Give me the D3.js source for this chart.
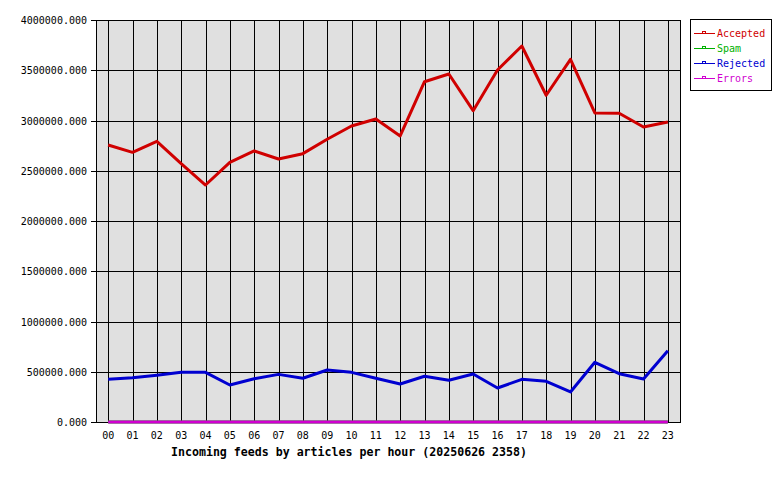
<!DOCTYPE html>
<html>
<head>
<meta charset="utf-8">
<script src="https://cdn.jsdelivr.net/npm/d3@7"></script>
<style>
body { margin: 0; background: #fff; }
svg { display: block; }
text { font-family: "DejaVu Sans Mono", monospace; }
</style>
</head>
<body>
<svg id="view"></svg>
<script>
var hours = ["00","01","02","03","04","05","06","07","08","09","10","11",
	"12","13","14","15","16","17","18","19","20","21","22","23"];
var accepted = [2756000,2683000,2793000,2570000,2358000,2584000,2697000,2617000,2670000,2813000,2945000,3015000,
	2846000,3386000,3463000,3098000,3502000,3741000,3251000,3609000,3075000,3072000,2935000,2985000];
var spam = [0,0,0,0,0,0,0,0,0,0,0,0,0,0,0,0,0,0,0,0,0,0,0,0];
var rejected = [425000,441000,465000,494000,494000,368000,431000,474000,435000,517000,494000,435000,
	378000,455000,415000,478000,338000,425000,405000,299000,594000,481000,428000,709000];
var errors = [0,0,0,0,0,0,0,0,0,0,0,0,0,0,0,0,0,0,0,0,0,0,0,0];
var yTicks = [0,500000,1000000,1500000,2000000,2500000,3000000,3500000,4000000];

var series = [
	{ name: "Accepted", values: accepted, color: "#d00000" },
	{ name: "Spam", values: spam, color: "#00b000" },
	{ name: "Rejected", values: rejected, color: "#0000d0" },
	{ name: "Errors", values: errors, color: "#d000d0" }
];

var svg = d3.select("#view").attr("width", 780).attr("height", 480);

// plot area (note: "top" is reserved on window, so use pTop etc.)
var pLeft = 96, pRight = 680, pTop = 20, pBottom = 422;

var x = d3.scalePoint().domain(hours).range([pLeft, pRight]).padding(0.5);
var y = d3.scaleLinear().domain([0, 4000000]).range([pBottom, pTop]);

// plot background
svg.append("rect")
	.attr("x", pLeft).attr("y", pTop)
	.attr("width", pRight - pLeft).attr("height", pBottom - pTop)
	.attr("fill", "#e0e0e0");

// grid
var grid = svg.append("g").attr("stroke", "#000").attr("stroke-width", 1).attr("shape-rendering", "crispEdges");
grid.selectAll(".vg").data(hours).join("line")
	.attr("x1", d => Math.round(x(d)) + 0.5).attr("x2", d => Math.round(x(d)) + 0.5)
	.attr("y1", pTop).attr("y2", pBottom);
grid.selectAll(".hg").data(yTicks).join("line")
	.attr("x1", pLeft - 5).attr("x2", pRight)
	.attr("y1", d => Math.round(y(d)) + 0.5).attr("y2", d => Math.round(y(d)) + 0.5);

// frame
svg.append("rect")
	.attr("x", pLeft + 0.5).attr("y", pTop + 0.5)
	.attr("width", pRight - pLeft).attr("height", pBottom - pTop)
	.attr("fill", "none").attr("stroke", "#000").attr("shape-rendering", "crispEdges");

// y labels
svg.append("g").selectAll("text").data(yTicks).join("text")
	.attr("x", pLeft - 9).attr("y", d => y(d) + 4)
	.attr("text-anchor", "end").attr("font-size", 10)
	.text(d => d3.format(".3f")(d));

// x labels
svg.append("g").selectAll("text").data(hours).join("text")
	.attr("x", d => x(d)).attr("y", pBottom + 17)
	.attr("text-anchor", "middle").attr("font-size", 10)
	.text(d => d);

svg.append("text")
	.attr("x", 349).attr("y", 456)
	.attr("text-anchor", "middle").attr("font-size", 11.6).attr("font-weight", "bold")
	.text("Incoming feeds by articles per hour (20250626 2358)");

// lines
var line = d3.line().x((d, i) => x(hours[i])).y(d => y(d));
svg.append("g").selectAll("path").data(series).join("path")
	.attr("d", d => line(d.values))
	.attr("fill", "none")
	.attr("stroke", d => d.color)
	.attr("stroke-width", 3)
	.attr("stroke-linejoin", "round");

// legend
var lg = svg.append("g");
lg.append("rect")
	.attr("x", 690.5).attr("y", 19.5).attr("width", 81).attr("height", 71)
	.attr("fill", "#fff").attr("stroke", "#000").attr("shape-rendering", "crispEdges");
var item = lg.selectAll("g.item").data(series).join("g")
	.attr("class", "item")
	.attr("transform", (d, i) => "translate(0," + (33 + i * 15) + ")");
item.append("line")
	.attr("x1", 694).attr("x2", 715).attr("y1", 0.5).attr("y2", 0.5)
	.attr("stroke", d => d.color).attr("stroke-width", 1)
	.attr("shape-rendering", "crispEdges");
item.append("rect")
	.attr("x", 702.5).attr("y", -1.5).attr("width", 3).attr("height", 2)
	.attr("fill", "#fff").attr("stroke", d => d.color).attr("stroke-width", 1)
	.attr("shape-rendering", "crispEdges");
item.append("text")
	.attr("x", 717).attr("y", 4)
	.attr("font-size", 10)
	.attr("fill", d => d.color)
	.text(d => d.name);
</script>
</body>
</html>
